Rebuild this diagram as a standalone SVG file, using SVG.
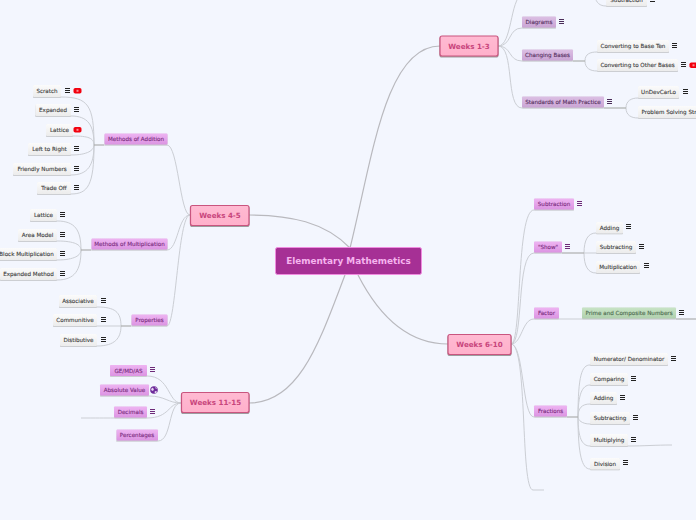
<svg xmlns="http://www.w3.org/2000/svg" width="696" height="520" viewBox="0 0 696 520">
<style>
text{font-family:"DejaVu Sans",Verdana,sans-serif;text-anchor:middle;stroke-width:.12}
.c{fill:none;stroke:#cbced4;stroke-width:1}
.s{fill:none;stroke:#aeb0ae;stroke-width:1.2}
.t{fill:none;stroke:#b9b9be;stroke-width:1.2}
.w rect{fill:url(#pk);stroke:#c9547f;stroke-width:1.2;filter:url(#sh)}
.w text{font-size:7.100px;font-weight:bold;fill:#c8457c}
.p rect{fill:url(#pu);filter:url(#sh2)}
.p text{font-size:5.600px;fill:#7a2d7e;stroke:#7a2d7e}
.d rect{fill:url(#dp);filter:url(#sh2)}
.d text{font-size:5.600px;fill:#55305f;stroke:#55305f}
.g rect{fill:url(#gr);filter:url(#sh2)}
.g text{font-size:5.600px;fill:#4d6b50;stroke:#4d6b50}
.l rect{fill:url(#lf);filter:url(#sh2)}
.l text{font-size:5.600px;fill:#3d3d3d;stroke:#3d3d3d}
.r{fill:#f2000e}
.ri{fill:#fff;opacity:.55}
</style>
<defs>
<linearGradient id="pk" x1="0" y1="0" x2="0" y2="1"><stop offset="0" stop-color="#ffbad2"/><stop offset="1" stop-color="#ffb0cb"/></linearGradient>
<linearGradient id="pu" x1="0" y1="0" x2="0" y2="1"><stop offset="0" stop-color="#eeb4f2"/><stop offset="1" stop-color="#dc94e2"/></linearGradient>
<linearGradient id="dp" x1="0" y1="0" x2="0" y2="1"><stop offset="0" stop-color="#dcc0e4"/><stop offset="1" stop-color="#caa4d4"/></linearGradient>
<linearGradient id="gr" x1="0" y1="0" x2="0" y2="1"><stop offset="0" stop-color="#c8e4c6"/><stop offset="1" stop-color="#b0d0ae"/></linearGradient>
<linearGradient id="lf" x1="0" y1="0" x2="0" y2="1"><stop offset="0" stop-color="#fbfbfb"/><stop offset="1" stop-color="#ececec"/></linearGradient>
<filter id="sh" x="-10%" y="-20%" width="120%" height="150%"><feDropShadow dx="0" dy="1" stdDeviation=".6" flood-color="#777" flood-opacity=".7"/></filter>
<filter id="sh2" x="-10%" y="-20%" width="120%" height="150%"><feDropShadow dx="0" dy=".6" stdDeviation=".4" flood-color="#aaa" flood-opacity=".6"/></filter>
<path id="mn" d="M-2.500-2H2.500M-2.500 0H2.500M-2.500 2H2.500"/>
</defs>
<rect width="696" height="520" fill="#f3f6fe"/>
<g id="connectors">
<g class="t">
<path d="M350 248C372 160 385 46 440 46"/>
<path d="M350 248C325 222 290 215 249 215"/>
<path d="M358 275C380 318 410 344 448 344"/>
<path d="M345 275C320 340 300 403 249 403"/>
</g>
<g class="c">
<path d="M498 46C512 46 510 0 522 -6"/>
<path d="M498 46C512 46 508 28 522 28H556"/>
<path d="M498 46C512 46 508 61 522 61H573"/>
<path d="M498 46C515 46 505 108 522 108H604"/>
<path d="M585 61C585 54 590 52 597 52H669M585 61C585 68 590 71 597 71H678"/>
<path d="M595 -4C596 3 600 6 606 6H647"/>
<path d="M626 108C626 101 631 98 638 98H679M626 108C626 115 631 118 638 118H696"/>
<path d="M190 215C180 215 178 145 167 145H104"/>
<path d="M190 215C178 215 178 250 167 250H91"/>
<path d="M190 215C178 215 176 326 167 326H131"/>
<path d="M94 145C94 105 88 97 61 97H33M94 145C94 125 88 116 71 116H35M94 145C94 138 88 136 73 136H46M94 145C94 150 88 155 71 155H28M94 145C94 165 88 175 71 175H13M94 145C94 185 88 194 71 194H37"/>
<path d="M81 250C81 230 75 221 57 221H30M81 250C81 245 75 241 57 241H18M81 250C81 255 75 260 57 260H0M81 250C81 270 75 280 57 280H0"/>
<path d="M121 326C121 312 115 307 97 307H59M121 326H53M121 326C121 338 115 346 97 346H60"/>
<path d="M181 403C168 403 170 376 147 376H110"/>
<path d="M181 403C168 403 165 396 149 396H100"/>
<path d="M181 403C168 403 170 418 147 418L114 418C105 418 95 418 81 418"/>
<path d="M181 403C168 403 172 441 158 441H116"/>
<path d="M511 344C522 344 516 210 534 210H574"/>
<path d="M511 344C524 344 516 253 534 253H562"/>
<path d="M511 344C522 344 522 319 534 319H559"/>
<path d="M511 344C524 344 522 417 534 417H567"/>
<path d="M511 344C528 344 520 490 533 490H544"/>
<path d="M584 253C584 240 588 233 596 233H623M584 253H636M584 253C584 266 588 273 596 273H640"/>
<path d="M559 319H676"/>
<path d="M578 417C578 375 582 365 590 365H668M578 417C578 395 582 385 590 385H628M578 417C578 408 582 404 590 404H617M578 417C578 420 582 424 590 424H630M578 417C578 438 582 446 590 446H628C645 446 655 445 672 445M578 417C578 455 582 469 590 469H620"/>
</g>
<g class="s">
<path d="M573 61H585"/><path d="M604 108H626"/><path d="M104 145H94"/><path d="M91 250H81"/><path d="M131 326H121"/><path d="M562 253H584"/><path d="M676 319H696"/><path d="M567 417H578"/>
</g>
</g>
<g id="root"><rect x="275.500" y="247.500" width="146" height="27" rx="2" fill="#a63095" stroke="#f08ce0" stroke-width="1"/><text x="348.500" y="264" font-size="8.900" font-weight="bold" fill="#f5b4ee">Elementary Mathemetics</text></g>
<g id="w13" class="w"><rect x="440" y="36" width="58" height="20" rx="2"/><text x="469" y="48.500">Weeks 1-3</text></g>
<g id="w45" class="w"><rect x="190.500" y="205.500" width="58.500" height="20" rx="2"/><text x="220" y="218">Weeks 4-5</text></g>
<g id="w1115" class="w"><rect x="181.500" y="392.500" width="67.500" height="20" rx="2"/><text x="215.500" y="405">Weeks 11-15</text></g>
<g id="w610" class="w"><rect x="448" y="334.500" width="63" height="20" rx="2"/><text x="479.500" y="347">Weeks 6-10</text></g>
<g id="n1" class="p"><rect x="104.500" y="133.500" width="63" height="11" rx="1"/><text x="136" y="141">Methods of Addition</text></g>
<g id="n2" class="p"><rect x="91.500" y="238.500" width="76" height="11" rx="1"/><text x="129.500" y="246">Methods of Multiplication</text></g>
<g id="n3" class="p"><rect x="131.500" y="314.500" width="36" height="11" rx="1"/><text x="149.500" y="322">Properties</text></g>
<g id="n4" class="p"><rect x="110" y="365" width="37" height="11" rx="1"/><text x="128.500" y="372.500">GE/MD/AS</text></g>
<g id="n5" class="p"><rect x="100" y="384.500" width="49" height="11" rx="1"/><text x="124.500" y="392">Absolute Value</text></g>
<g id="n6" class="p"><rect x="114" y="406.500" width="33" height="11" rx="1"/><text x="130.500" y="414">Decimals</text></g>
<g id="n7" class="p"><rect x="116.500" y="429.500" width="41.500" height="11" rx="1"/><text x="137" y="437">Percentages</text></g>
<g id="n8" class="d"><rect x="522" y="16.500" width="34" height="11" rx="1"/><text x="539" y="24">Diagrams</text></g>
<g id="n9" class="d"><rect x="522" y="49.500" width="51" height="11" rx="1"/><text x="547.500" y="57">Changing Bases</text></g>
<g id="n10" class="d"><rect x="522" y="96.500" width="82" height="11" rx="1"/><text x="563" y="104">Standards of Math Practice</text></g>
<g id="n11" class="p"><rect x="534" y="198.500" width="40" height="11" rx="1"/><text x="554" y="206">Subtraction</text></g>
<g id="n12" class="p"><rect x="534" y="241.500" width="28" height="11" rx="1"/><text x="548" y="249">"Show"</text></g>
<g id="n13" class="p"><rect x="534" y="307.500" width="25" height="11" rx="1"/><text x="546.500" y="315">Factor</text></g>
<g id="n14" class="p"><rect x="534" y="405.500" width="33" height="11" rx="1"/><text x="550.500" y="413">Fractions</text></g>
<g id="n15" class="g"><rect x="582" y="307.500" width="94" height="11" rx="1"/><text x="629" y="315">Prime and Composite Numbers</text></g>
<g id="l1" class="l"><rect x="33" y="85" width="28" height="12" rx="1"/><text x="47" y="93">Scratch</text></g>
<g id="l2" class="l"><rect x="35.500" y="104" width="35.500" height="12" rx="1"/><text x="53" y="112">Expanded</text></g>
<g id="l3" class="l"><rect x="46" y="124" width="27" height="12" rx="1"/><text x="59.500" y="132">Lattice</text></g>
<g id="l4" class="l"><rect x="28" y="143" width="43" height="12" rx="1"/><text x="49.500" y="151">Left to Right</text></g>
<g id="l5" class="l"><rect x="13" y="163" width="58" height="12" rx="1"/><text x="42" y="171">Friendly Numbers</text></g>
<g id="l6" class="l"><rect x="37" y="182" width="34" height="12" rx="1"/><text x="54" y="190">Trade Off</text></g>
<g id="l7" class="l"><rect x="30" y="209" width="27" height="12" rx="1"/><text x="43.500" y="217">Lattice</text></g>
<g id="l8" class="l"><rect x="18" y="229" width="39" height="12" rx="1"/><text x="37.500" y="237">Area Model</text></g>
<g id="l9" class="l"><rect x="-5" y="248" width="62" height="12" rx="1"/><text x="26.500" y="256">Block Multiplication</text></g>
<g id="l10" class="l"><rect x="0" y="268" width="57" height="12" rx="1"/><text x="28.500" y="276">Expanded Method</text></g>
<g id="l11" class="l"><rect x="59" y="295" width="38" height="12" rx="1"/><text x="78" y="303">Associative</text></g>
<g id="l12" class="l"><rect x="53" y="314" width="44" height="12" rx="1"/><text x="75" y="322">Communitive</text></g>
<g id="l13" class="l"><rect x="60" y="334" width="37" height="12" rx="1"/><text x="78.500" y="342">Distibutive</text></g>
<g id="l14" class="l"><rect x="606" y="-6" width="41" height="12" rx="1"/><text x="626.500" y="2">Subtraction</text></g>
<g id="l15" class="l"><rect x="597" y="40" width="72" height="12" rx="1"/><text x="633" y="48">Converting to Base Ten</text></g>
<g id="l16" class="l"><rect x="597" y="59" width="81" height="12" rx="1"/><text x="637.500" y="67">Converting to Other Bases</text></g>
<g id="l17" class="l"><rect x="638" y="86" width="41" height="12" rx="1"/><text x="658.500" y="94">UnDevCarLo</text></g>
<g id="l18" class="l"><rect x="638" y="106" width="62" height="12" rx="1"/><text x="641.500" y="114" style="text-anchor:start">Problem Solving Str</text></g>
<g id="l19" class="l"><rect x="596" y="222" width="27" height="11.500" rx="1"/><text x="609.500" y="229.500">Adding</text></g>
<g id="l20" class="l"><rect x="596" y="241" width="40" height="12" rx="1"/><text x="616" y="249">Subtracting</text></g>
<g id="l21" class="l"><rect x="596" y="261" width="44" height="12" rx="1"/><text x="618" y="269">Multiplication</text></g>
<g id="l22" class="l"><rect x="590" y="353" width="78" height="12" rx="1"/><text x="629" y="361">Numerator/ Denominator</text></g>
<g id="l23" class="l"><rect x="590" y="373" width="38" height="12" rx="1"/><text x="609" y="381">Comparing</text></g>
<g id="l24" class="l"><rect x="590" y="392" width="27" height="12" rx="1"/><text x="603.500" y="400">Adding</text></g>
<g id="l25" class="l"><rect x="590" y="412" width="40" height="12" rx="1"/><text x="610" y="420">Subtracting</text></g>
<g id="l26" class="l"><rect x="590" y="434" width="38" height="12" rx="1"/><text x="609" y="442">Multiplying</text></g>
<g id="l27" class="l"><rect x="590" y="458" width="30" height="11.500" rx="1"/><text x="605" y="465.500">Division</text></g>
<g id="icons">
<g stroke="#222" fill="none">
<use href="#mn" x="67.500" y="90.500"/><use href="#mn" x="76.500" y="109.500"/><use href="#mn" x="76.500" y="148.500"/><use href="#mn" x="76.500" y="168.500"/><use href="#mn" x="76.500" y="187.500"/><use href="#mn" x="62.500" y="214.500"/><use href="#mn" x="62.500" y="234.500"/><use href="#mn" x="62.500" y="253.500"/><use href="#mn" x="62.500" y="273.500"/><use href="#mn" x="103.500" y="300.500"/><use href="#mn" x="103.500" y="319.500"/><use href="#mn" x="103.500" y="339.500"/><use href="#mn" x="652.500" y="-.5"/><use href="#mn" x="674.500" y="45.500"/><use href="#mn" x="683.500" y="64.500"/><use href="#mn" x="685.500" y="91.500"/><use href="#mn" x="628.500" y="226.500"/><use href="#mn" x="641.500" y="246.500"/><use href="#mn" x="646.500" y="265.500"/><use href="#mn" x="681.500" y="312.500"/><use href="#mn" x="673.500" y="358.500"/><use href="#mn" x="633.500" y="378.500"/><use href="#mn" x="622.500" y="397.500"/><use href="#mn" x="635.500" y="417.500"/><use href="#mn" x="633.500" y="439.500"/><use href="#mn" x="625.500" y="462.500"/>
</g>
<g stroke="#6d2a78" fill="none"><use href="#mn" x="152.500" y="369.500"/><use href="#mn" x="152.500" y="411.500"/><use href="#mn" x="579.500" y="203.500"/><use href="#mn" x="567.500" y="246.500"/></g>
<g stroke="#4a2c58" fill="none"><use href="#mn" x="561.500" y="21.500"/><use href="#mn" x="609.500" y="101.500"/></g>
<rect class="r" x="73.500" y="88" width="8" height="5.500" rx="1.800"/><rect class="ri" x="76.500" y="89.800" width="2" height="2"/>
<rect class="r" x="73.500" y="127" width="8" height="5.500" rx="1.800"/><rect class="ri" x="76.500" y="128.800" width="2" height="2"/>
<rect class="r" x="689.500" y="62.500" width="8" height="5.500" rx="1.800"/><rect class="ri" x="692.500" y="64.300" width="2" height="2"/>
<circle cx="154" cy="390" r="3.800" fill="#6d2a9a"/><path d="M152 387.500l2 1.500-1 2-2-1zM155 391l2 .5-1 2-1.500-1zM155 387l2 1-1 1z" fill="#e9d9f2"/>
</g>
</svg>
